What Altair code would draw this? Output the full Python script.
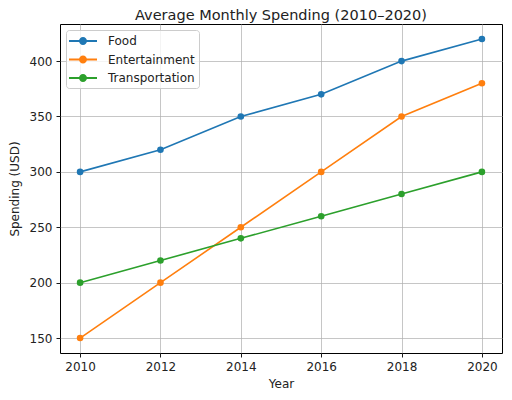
import altair as alt
import pandas as pd

years = [2010, 2012, 2014, 2016, 2018, 2020]
food = [300, 320, 350, 370, 400, 420]
entertainment = [150, 200, 250, 300, 350, 380]
transportation = [200, 220, 240, 260, 280, 300]

series_names = ['Food', 'Entertainment', 'Transportation']
series_colors = ['#1f77b4', '#ff7f0e', '#2ca02c']

rows = []
for name, values in zip(series_names, [food, entertainment, transportation]):
    for y, v in zip(years, values):
        rows.append({'Year': y, 'Spending': v, 'Category': name})
df = pd.DataFrame(rows)

FONT = 'DejaVu Sans'

# line with a marker in the middle, like a matplotlib legend handle
handle_path = ('M-2,-0.14L2,-0.14L2,0.14L-2,0.14Z '
               'M0.57,0A0.57,0.57 0 1,1 -0.57,0A0.57,0.57 0 1,1 0.57,0Z')

x_enc = alt.X('Year:Q', title='Year',
              scale=alt.Scale(domain=[2009.5, 2020.5], nice=False, zero=False),
              axis=alt.Axis(values=years, format='d'))
y_enc = alt.Y('Spending:Q', title='Spending (USD)',
              scale=alt.Scale(domain=[136.5, 433.5], nice=False, zero=False),
              axis=alt.Axis(values=[150, 200, 250, 300, 350, 400]))

# the line stroke scale takes its domain from the data (sorted), so its
# hidden legend is not merged with the colour legend of the points
color_of = dict(zip(series_names, series_colors))
stroke_range = [color_of[n] for n in sorted(series_names)]

lines = alt.Chart(df).mark_line(strokeWidth=1.6).encode(
    x=x_enc,
    y=y_enc,
    stroke=alt.Stroke('Category:N', scale=alt.Scale(range=stroke_range), legend=None),
    detail='Category:N'
)

points = alt.Chart(df).mark_circle(size=44, opacity=1).encode(
    x=x_enc,
    y=y_enc,
    color=alt.Color('Category:N',
                    scale=alt.Scale(domain=series_names, range=series_colors),
                    title=None,
                    legend=alt.Legend(orient='top-left', offset=6, padding=4,
                                      fillColor='rgba(255,255,255,0.8)',
                                      strokeColor='#cccccc', cornerRadius=3,
                                      symbolType=handle_path, symbolSize=196,
                                      symbolStrokeWidth=0, symbolOffset=6,
                                      labelOffset=18, labelAlign='left',
                                      rowPadding=5.5,
                                      labelFont=FONT, labelFontSize=12,
                                      labelColor='#222222'))
)

chart = alt.layer(lines, points).properties(
    width=442,
    height=329,
    title=alt.Title('Average Monthly Spending (2010–2020)', font=FONT,
                    fontSize=14.5, fontWeight='normal', color='#222222', offset=1),
    autosize=alt.AutoSizeParams(type='none'),
    padding={'left': 52, 'top': 16, 'right': 2, 'bottom': 40},
    background='white'
).configure_view(
    stroke='black', strokeWidth=1
).configure_axis(
    domain=False,
    grid=True, gridColor='#b0b0b0', gridWidth=0.9, gridOpacity=0.8,
    ticks=True, tickColor='black', tickSize=4, tickWidth=0.9,
    labelFont=FONT, labelFontSize=12, labelColor='#222222', labelPadding=4,
    titleFont=FONT, titleFontSize=12, titleFontWeight='normal', titleColor='#222222'
).configure_axisX(
    titlePadding=6
).configure_axisY(
    titlePadding=8
)

chart.save("out.html", embed_options={"renderer": "svg", "actions": False})
